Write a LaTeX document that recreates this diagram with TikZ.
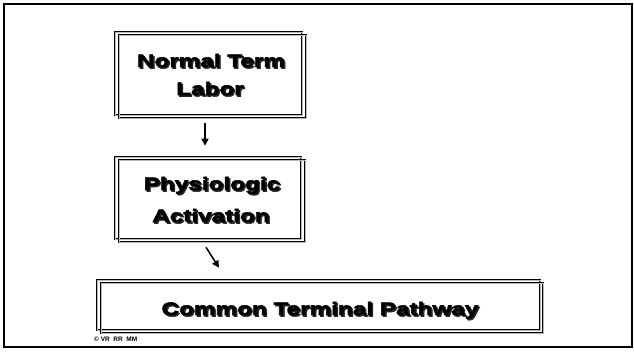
\documentclass[tikz,border=0pt]{standalone}
\usepackage{fontspec}
\setmainfont{Liberation Sans}
\newfontfamily\blk{Liberation Sans}[BoldFeatures={FakeStretch=1.35,FakeBold=3}]
\usetikzlibrary{arrows.meta}
\tikzset{
  boxline/.style={draw=black, line width=0.6pt, double=gray!55, double distance=0.9pt},
  boxA/.style={boxline, rectangle, inner sep=0pt},
  boxtext/.style={font=\blk\bfseries\fontsize{18}{28}\selectfont, align=center, inner sep=0pt},
  arr/.style={line width=1.5pt, -{Triangle[length=7pt,width=7pt]}},
}
\newcommand{\shadowtext}[3]{%
  \node[boxtext, text=black!85, anchor=base] at ([xshift=1.5pt,yshift=-1.5pt]#1) {#3};
  \node[boxtext, anchor=base] (#2) at (#1) {#3};
}
\begin{document}
\begin{tikzpicture}[x=1pt,y=-1pt]
\useasboundingbox (0,0) rectangle (634,356);
% outer frame
\draw[line width=1.6pt] (4,4) rectangle (632,347);
% box 1
\node[boxA, minimum width=187pt, minimum height=83pt] (b1) at (208.5,73.5) {};
\draw[boxline] (119,35) rectangle (306,118);
% box 2
\node[boxA, minimum width=186pt, minimum height=82pt] (b2) at (208,198) {};
\draw[boxline] (119,160) rectangle (305,242);
% box 3
\node[boxA, minimum width=443pt, minimum height=50pt] (b3) at (318.5,305) {};
\draw[boxline] (101,283) rectangle (543,333);
% texts
\coordinate (t1a) at (211,67);
\coordinate (t1b) at (210,95);
\coordinate (t2a) at (212,190);
\coordinate (t2b) at (211,222);
\coordinate (t3) at (320,315);
\shadowtext{t1a}{n1a}{Normal Term}
\shadowtext{t1b}{n1b}{Labor}
\shadowtext{t2a}{n2a}{Physiologic}
\shadowtext{t2b}{n2b}{Activation}
\shadowtext{t3}{n3}{Common Terminal Pathway}
% arrows
\draw[arr] ([xshift=-3.5pt,yshift=-8pt]b1.south) -- ([xshift=-3pt,yshift=11pt]b2.north);
\draw[arr] ([xshift=-2pt,yshift=-8pt]b2.south) -- ([xshift=-99.5pt,yshift=12pt]b3.north);
% copyright
\node[font=\bfseries\fontsize{6.5}{7}\selectfont, anchor=base west, inner sep=0pt] (copy) at (94,341) {© VR\ \ RR\ \ MM};
\end{tikzpicture}
\end{document}
